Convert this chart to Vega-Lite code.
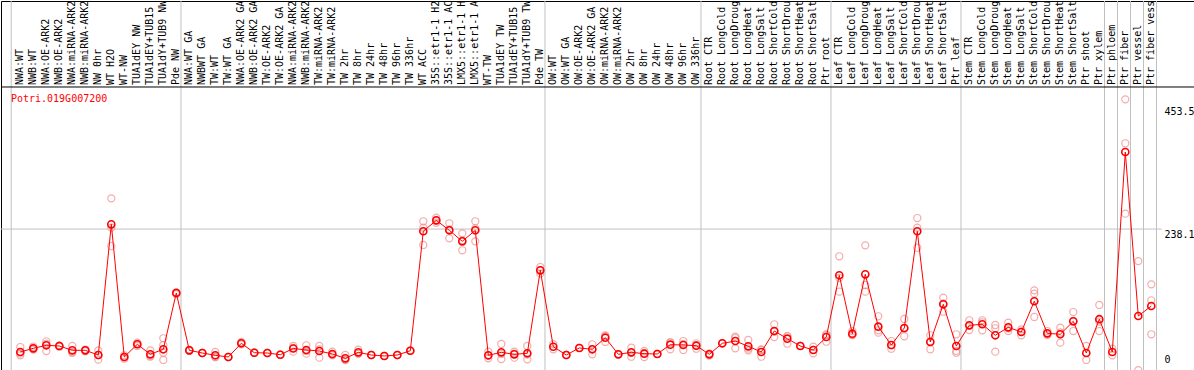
{
  "$schema": "https://vega.github.io/schema/vega-lite/v6.json",
  "padding": 0,
  "background": "white",
  "width": 1193,
  "height": 369,
  "config": {
    "view": {"stroke": "black", "strokeWidth": 1},
    "font": "DejaVu Sans Mono"
  },
  "datasets": {
    "expr": [
      {"i":0,"label":"NWA:WT","mean":22.8,"reps":[31.5,17,19.9]},
      {"i":1,"label":"NWB:WT","mean":29.2,"reps":[32,27,28.6]},
      {"i":2,"label":"NWA:OE-ARK2","mean":34.5,"reps":[41.5,24.5,37.5]},
      {"i":3,"label":"NWB:OE-ARK2","mean":33.3,"reps":[34,32,34]},
      {"i":4,"label":"NWA:miRNA-ARK2","mean":25.7,"reps":[33.3,21.5,22.3]},
      {"i":5,"label":"NWB:miRNA-ARK2","mean":25.7,"reps":[27,24,26]},
      {"i":6,"label":"NW 0hr","mean":17.5,"reps":[25.7,17.5,9.3]},
      {"i":7,"label":"WT H2O","mean":246.4,"reps":[291.9,240.5,208.4]},
      {"i":8,"label":"WT-NW","mean":14.0,"reps":[11,14,17]},
      {"i":9,"label":"TUA1dEY NW","mean":36.3,"reps":[39,33.3,36.6]},
      {"i":10,"label":"TUA1dEY+TUB15 NW","mean":18.7,"reps":[25.7,14.5,15.9]},
      {"i":11,"label":"TUA1dY+TUB9 NW","mean":27.5,"reps":[46.8,35,21.5,8.8]},
      {"i":12,"label":"Pde NW","mean":126.1,"reps":[124,127,127]},
      {"i":13,"label":"NWA:WT GA","mean":25.7,"reps":[25,27,25]},
      {"i":14,"label":"NWBWT GA","mean":21.0,"reps":[21,21]},
      {"i":15,"label":"TW:WT","mean":17.0,"reps":[22.8,14,14]},
      {"i":16,"label":"TW:WT GA","mean":14.0,"reps":[14,14]},
      {"i":17,"label":"NWA:OE-ARK2 GA","mean":38.0,"reps":[40.3,36,38]},
      {"i":18,"label":"NWB:OE-ARK2 GA","mean":21.5,"reps":[21.5,21.5]},
      {"i":19,"label":"TW:OE-ARK2","mean":21.0,"reps":[21,21]},
      {"i":20,"label":"TW:OE-ARK2 GA","mean":18.0,"reps":[18,18]},
      {"i":21,"label":"NWA:miRNA-ARK2","mean":28.9,"reps":[33.3,23.3,30]},
      {"i":22,"label":"NWB:miRNA-ARK2","mean":26.3,"reps":[34.5,19.8,24.6]},
      {"i":23,"label":"TW:miRNA-ARK2","mean":24.5,"reps":[33.3,12.8,27.4]},
      {"i":24,"label":"TW:miRNA-ARK2","mean":19.3,"reps":[23.3,17,17.6]},
      {"i":25,"label":"TW 2hr","mean":11.7,"reps":[17.5,9,8.6]},
      {"i":26,"label":"TW 8hr","mean":22.2,"reps":[26.8,20,20]},
      {"i":27,"label":"TW 24hr","mean":17.5,"reps":[17.5,17.5]},
      {"i":28,"label":"TW 48hr","mean":15.8,"reps":[15.8,15.8]},
      {"i":29,"label":"TW 96hr","mean":17.5,"reps":[17.5,17.5]},
      {"i":30,"label":"TW 336hr","mean":25.0,"reps":[25,25]},
      {"i":31,"label":"WT ACC","mean":234.2,"reps":[251.7,240.7,210.2]},
      {"i":32,"label":"35S::etr1-1 H2O","mean":253.4,"reps":[258,249.2,252.9]},
      {"i":33,"label":"35S::etr1-1 ACC","mean":235.9,"reps":[248.2,221.9,237.6]},
      {"i":34,"label":"LMX5::etr1-1 H2O","mean":216.6,"reps":[230.6,200.9,218.3]},
      {"i":35,"label":"LMX5::etr1-1 ACC","mean":235.9,"reps":[251.7,216.6,239.4]},
      {"i":36,"label":"WT-TW","mean":17.0,"reps":[23.3,11.7,16]},
      {"i":37,"label":"TUA1dEY TW","mean":22.2,"reps":[36.8,10.5,19.3]},
      {"i":38,"label":"TUA1dEY+TUB15 TW","mean":18.7,"reps":[23.3,12.8,20]},
      {"i":39,"label":"TUA1dY+TUB9 TW","mean":20.5,"reps":[33.3,10,18.2]},
      {"i":40,"label":"Pde TW","mean":165.8,"reps":[171.6,160,165.8]},
      {"i":41,"label":"OW:WT","mean":32.0,"reps":[27.5,36.5]},
      {"i":42,"label":"OW:WT GA","mean":17.5,"reps":[17.5,17.5]},
      {"i":43,"label":"OW:OE-ARK2","mean":29.8,"reps":[29.8,29.8]},
      {"i":44,"label":"OW:OE-ARK2 GA","mean":27.5,"reps":[36.3,18.7,27.5]},
      {"i":45,"label":"OW:miRNA-ARK2","mean":47.8,"reps":[50.8,40.3,52]},
      {"i":46,"label":"OW:miRNA-ARK2","mean":18.7,"reps":[18.7,18.7]},
      {"i":47,"label":"OW 2hr","mean":22.2,"reps":[30.3,14.5,21.8]},
      {"i":48,"label":"OW 8hr","mean":19.8,"reps":[24.5,14,21]},
      {"i":49,"label":"OW 24hr","mean":19.3,"reps":[19.3,19.3]},
      {"i":50,"label":"OW 48hr","mean":35.6,"reps":[39.8,27.5,39.5]},
      {"i":51,"label":"OW 96hr","mean":35.0,"reps":[42,26.3,36.7]},
      {"i":52,"label":"OW 336hr","mean":33.8,"reps":[38,28.5,35]},
      {"i":53,"label":"Root CTR","mean":18.7,"reps":[16.3,20,19.8]},
      {"i":54,"label":"Root LongCold","mean":38.0,"reps":[38,38]},
      {"i":55,"label":"Root LongDrought","mean":42.0,"reps":[49.6,29.2,47.2]},
      {"i":56,"label":"Root LongHeat","mean":32.7,"reps":[43.8,25.7,28.6]},
      {"i":57,"label":"Root LongSalt","mean":22.8,"reps":[14.5,27,27]},
      {"i":58,"label":"Root ShortCold","mean":59.5,"reps":[71.3,49,58.2]},
      {"i":59,"label":"Root ShortDrought","mean":46.1,"reps":[50.3,37.3,50.7]},
      {"i":60,"label":"Root ShortHeat","mean":33.3,"reps":[33.3,33.3]},
      {"i":61,"label":"Root ShortSalt","mean":26.3,"reps":[32,20.5,26.4]},
      {"i":62,"label":"Ptr root","mean":49.0,"reps":[53.8,40.8,52.4]},
      {"i":63,"label":"Leaf CTR","mean":157.1,"reps":[190.4,128.4,152.5]},
      {"i":64,"label":"Leaf LongCold","mean":54.8,"reps":[59.5,52.5,52.4]},
      {"i":65,"label":"Leaf LongDrought","mean":158.8,"reps":[209.6,140.1,128.4]},
      {"i":66,"label":"Leaf LongHeat","mean":67.1,"reps":[85.3,56.6,60.8]},
      {"i":67,"label":"Leaf LongSalt","mean":35.0,"reps":[42,28.5,34.5]},
      {"i":68,"label":"Leaf ShortCold","mean":64.8,"reps":[80.6,50.3,63.5]},
      {"i":69,"label":"Leaf ShortDrought","mean":234.2,"reps":[257.4,240.5,205.4]},
      {"i":70,"label":"Leaf ShortHeat","mean":40.3,"reps":[52,27.5,41.4]},
      {"i":71,"label":"Leaf ShortSalt","mean":106.3,"reps":[117.9,93.3,107.7]},
      {"i":72,"label":"Ptr leaf","mean":33.3,"reps":[53.8,21.5,24.6]},
      {"i":73,"label":"Stem CTR","mean":69.5,"reps":[78.3,61.3,69]},
      {"i":74,"label":"Stem LongCold","mean":71.3,"reps":[78.3,60.8,74.8]},
      {"i":75,"label":"Stem LongDrought","mean":52.0,"reps":[70.1,64.3,23.3]},
      {"i":76,"label":"Stem LongHeat","mean":66.0,"reps":[74.1,64.3,59.6]},
      {"i":77,"label":"Stem LongSalt","mean":57.8,"reps":[62.5,52,59]},
      {"i":78,"label":"Stem ShortCold","mean":111.6,"reps":[130.8,124.9,84.1]},
      {"i":79,"label":"Stem ShortDrought","mean":55.5,"reps":[59.5,52.5,54.5]},
      {"i":80,"label":"Stem ShortHeat","mean":53.8,"reps":[65.3,39.1,57]},
      {"i":81,"label":"Stem ShortSalt","mean":76.5,"reps":[92.8,59.5,77.2]},
      {"i":82,"label":"Ptr shoot","mean":21.0,"reps":[33.3,8.8]},
      {"i":83,"label":"Ptr xylem","mean":80.2,"reps":[105.1,59.5,76]},
      {"i":84,"label":"Ptr phloem","mean":22.8,"reps":[17,28.6]},
      {"i":85,"label":"Ptr fiber","mean":373.0,"reps":[465.3,388.3,265]},
      {"i":86,"label":"Ptr vessel","mean":85.8,"reps":[182,-9]},
      {"i":87,"label":"Ptr fiber vessel","mean":103.3,"reps":[141.3,113.3,53.8]}
    ],
    "seps": [
      {"x":-0.7},{"x":12.36},{"x":40.36},{"x":52.36},{"x":62.36},{"x":72.36},
      {"x":83.4},{"x":84.4},{"x":85.4},{"x":86.4},{"x":87.4}
    ],
    "one": [{"name":"Potri.019G007200"}]
  },
  "layer": [
    {
      "data": {"name": "seps"},
      "mark": {"type": "rule", "color": "#c0c0c0", "strokeWidth": 1},
      "encoding": {
        "x": {"field": "x", "type": "quantitative", "scale": {"domain": [-1.4846, 90.285], "nice": false, "zero": false}, "axis": null}
      }
    },
    {
      "data": {"name": "one"},
      "mark": {"type": "rule", "color": "#c0c0c0", "strokeWidth": 1},
      "encoding": {
        "x": {"datum": -1.5, "type": "quantitative", "scale": {"domain": [-1.4846, 90.285], "nice": false, "zero": false}, "axis": null},
        "x2": {"datum": 87.8},
        "y": {"datum": 238.1, "type": "quantitative", "scale": {"domain": [-8.76, 637.5], "nice": false, "zero": false},
          "axis": {"orient": "right", "offset": -37, "values": [0, 238.1, 453.5], "grid": false, "ticks": false, "domain": false,
            "labelBaseline": {"condition": {"test": "datum.value == 0", "value": "bottom"}, "value": "top"},
            "labelPadding": 7, "labelFont": "DejaVu Sans Mono", "labelFontSize": 10, "labelColor": "black",
            "labelExpr": "datum.value == 0 ? '0' : format(datum.value, '.1f')", "title": null}}
      }
    },
    {
      "data": {"name": "one"},
      "mark": {"type": "rule", "color": "black", "strokeWidth": 1},
      "encoding": {
        "y": {"datum": 486.9, "type": "quantitative"}
      }
    },
    {
      "data": {"name": "expr"},
      "mark": {"type": "text", "angle": 270, "align": "left", "baseline": "middle", "fontSize": 10, "font": "DejaVu Sans Mono", "color": "black", "clip": true, "dx": 2},
      "encoding": {
        "x": {"field": "i", "type": "quantitative"},
        "y": {"datum": 486.9, "type": "quantitative"},
        "text": {"field": "label"}
      }
    },
    {
      "data": {"name": "one"},
      "mark": {"type": "text", "align": "left", "baseline": "top", "color": "red", "font": "DejaVu Sans Mono", "fontSize": 10},
      "encoding": {
        "x": {"datum": -0.72, "type": "quantitative"},
        "y": {"datum": 474.6, "type": "quantitative"},
        "text": {"field": "name"}
      }
    },
    {
      "data": {"name": "expr"},
      "transform": [{"flatten": ["reps"]}],
      "mark": {"type": "point", "shape": "circle", "size": 50, "filled": false, "color": "#f08a8a", "strokeWidth": 1.2, "clip": true},
      "encoding": {
        "x": {"field": "i", "type": "quantitative"},
        "y": {"field": "reps", "type": "quantitative"}
      }
    },
    {
      "data": {"name": "expr"},
      "mark": {"type": "line", "color": "#ff0000", "strokeWidth": 1, "clip": true},
      "encoding": {
        "x": {"field": "i", "type": "quantitative"},
        "y": {"field": "mean", "type": "quantitative"}
      }
    },
    {
      "data": {"name": "expr"},
      "mark": {"type": "point", "shape": "circle", "size": 50, "filled": false, "color": "#ff0000", "strokeWidth": 1.6, "opacity": 1, "clip": true},
      "encoding": {
        "x": {"field": "i", "type": "quantitative"},
        "y": {"field": "mean", "type": "quantitative"}
      }
    }
  ]
}
